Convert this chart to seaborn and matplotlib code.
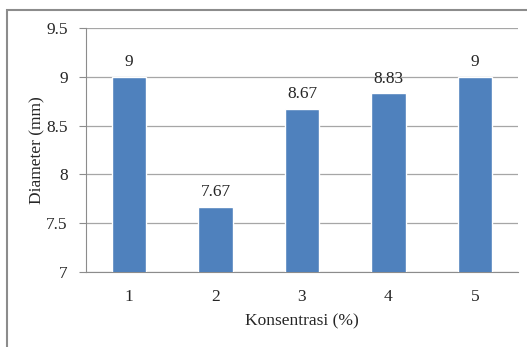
import matplotlib
matplotlib.use("Agg")
import matplotlib.pyplot as plt
import seaborn as sns
import pandas as pd
from matplotlib.patches import Rectangle

konsentrasi = ["1", "2", "3", "4", "5"]
diameter = [9, 7.67, 8.67, 8.83, 9]
labels = ["9", "7.67", "8.67", "8.83", "9"]

data = pd.DataFrame({"Konsentrasi": konsentrasi, "Diameter": diameter})

sns.set_style("white")
plt.rcParams["font.family"] = ["Liberation Serif", "DejaVu Serif"]

fig = plt.figure(figsize=(5.27, 3.47), dpi=100)
ax = fig.add_axes([0.163, 0.216, 0.82, 0.703])

sns.barplot(x="Konsentrasi", y="Diameter", data=data, color="#4F81BD",
            width=0.4, saturation=1, ax=ax, zorder=3)

ax.set_ylim(7, 9.5)
ax.set_yticks([7, 7.5, 8, 8.5, 9, 9.5])
ax.set_yticklabels(["7", "7.5", "8", "8.5", "9", "9.5"])
ax.yaxis.grid(True, color="#A6A6A6", linewidth=0.9, zorder=0)
ax.set_axisbelow(True)

for side in ["top", "right"]:
    ax.spines[side].set_visible(False)
ax.spines["left"].set_color("#8C8C8C")
ax.spines["bottom"].set_color("#8C8C8C")
ax.tick_params(axis="y", length=5, color="#8C8C8C", labelsize=12.5, pad=8, left=True)
ax.tick_params(axis="x", length=0, labelsize=12.5, pad=12)

ax.bar_label(ax.containers[0], labels=labels, padding=5, fontsize=12.5)

ax.set_xlabel("Konsentrasi (%)", fontsize=12.5, labelpad=6)
ax.set_ylabel("Diameter (mm)", fontsize=12.5, labelpad=1)

# outer chart border (cropped at right and bottom)
fig.patches.append(Rectangle((7 / 527, -0.1), 1.2, 1 - 10 / 347 + 0.1,
                             transform=fig.transFigure, fill=False,
                             edgecolor="#8C8C8C", linewidth=1.5))

fig.savefig("out.png", dpi=100)
